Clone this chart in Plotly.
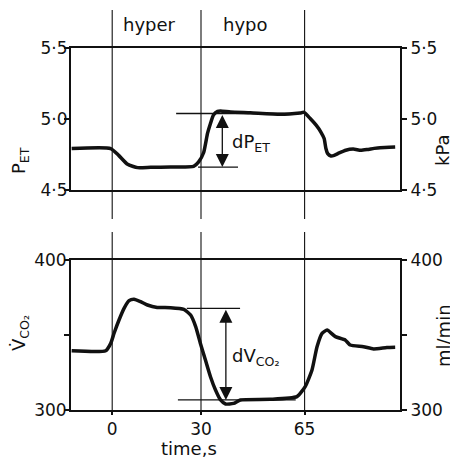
import plotly.graph_objects as go

# ---------------- data ----------------
pet_time = [-13.7, -0.5, 2.2, 5.2, 8.6, 13.0, 19.7, 27.5, 29.2, 30.9, 32.2, 33.2, 34.2,
            35.6, 36.6, 40.0, 46.7, 56.8, 63.5, 64.8, 66.9, 68.9, 70.5, 71.6, 72.2,
            72.8, 73.9, 75.0, 76.7, 78.9, 81.4, 84.0, 86.1, 88.5, 90.5, 95.6]
pet_kpa = [4.794, 4.794, 4.746, 4.683, 4.660, 4.662, 4.664, 4.668, 4.700, 4.766, 4.900,
           4.970, 5.030, 5.055, 5.058, 5.050, 5.045, 5.035, 5.044, 5.048, 5.005, 4.958,
           4.910, 4.864, 4.794, 4.758, 4.742, 4.746, 4.763, 4.782, 4.790, 4.782, 4.787,
           4.795, 4.800, 4.805]

vco2_time = [-13.7, -2.2, -0.5, 0.6, 2.3, 4.0, 5.7, 7.4, 9.6, 11.9, 15.2, 19.7, 24.2,
             26.5, 28.2, 29.8, 31.5, 33.2, 34.9, 36.6, 38.3, 41.0, 43.3, 53.4, 62.4,
             65.2, 67.5, 69.2, 70.9, 72.6, 75.4, 78.7, 80.4, 84.9, 88.3, 92.8, 95.6]
vco2_mlmin = [339.5, 339.5, 344.4, 351.0, 360.0, 367.8, 372.9, 373.8, 372.2, 370.0,
              368.4, 368.2, 367.1, 363.3, 355.6, 344.4, 333.3, 322.2, 313.3, 306.7,
              304.0, 304.4, 306.7, 307.1, 308.9, 315.6, 326.7, 342.2, 351.1, 353.3,
              348.9, 346.7, 343.3, 342.2, 340.7, 341.6, 341.8]

event_times = [0, 30, 65]
phase_labels = ["hyper", "hypo"]

pet_ticks = [4.5, 5.0, 5.5]
pet_ticktext = ["4·5", "5·0", "5·5"]
vco2_ticks = [300, 350, 400]
vco2_ticktext = ["300", "", "400"]
time_ticks = [0, 30, 65]
time_ticktext = ["0", "30", "65"]

# difference markers
dpet_upper, dpet_lower = 5.04, 4.664
dpet_upper_span = [21.6, 63.0]
dpet_lower_span = [29.0, 42.5]
dpet_arrow_t = 37.2
dvco2_upper, dvco2_lower = 367.8, 306.7
dvco2_upper_span = [25.2, 43.2]
dvco2_lower_span = [22.2, 62.0]
dvco2_arrow_t = 38.4

# ---------------- figure ----------------
INK = "#111111"
FONT = "DejaVu Sans"
TICKF = dict(family=FONT, size=17, color=INK)

fig = go.Figure()
fig.add_trace(go.Scatter(x=pet_time, y=pet_kpa, mode="lines", xaxis="x", yaxis="y",
                         line=dict(color=INK, width=3.5, shape="spline", smoothing=0.5),
                         showlegend=False, hoverinfo="skip"))
fig.add_trace(go.Scatter(x=vco2_time, y=vco2_mlmin, mode="lines", xaxis="x2", yaxis="y2",
                         line=dict(color=INK, width=3.5, shape="spline", smoothing=0.5),
                         showlegend=False, hoverinfo="skip"))
# empty traces so the right-hand (overlaying) axes are drawn
fig.add_trace(go.Scatter(x=[None], y=[None], mode="lines", xaxis="x", yaxis="y3",
                         showlegend=False, hoverinfo="skip"))
fig.add_trace(go.Scatter(x=[None], y=[None], mode="lines", xaxis="x2", yaxis="y4",
                         showlegend=False, hoverinfo="skip"))

xr = [-13.92, 97.23]
common_x = dict(range=xr, showline=True, mirror=True, linecolor=INK, linewidth=1.6,
                showgrid=False, zeroline=False, automargin=False)
common_y = dict(showline=True, linecolor=INK, linewidth=2, showgrid=False, zeroline=False,
                ticks="outside", ticklen=5, tickwidth=2, tickcolor=INK, tickfont=TICKF,
                automargin=False)

fig.update_layout(
    template="none",
    width=450, height=457,
    margin=dict(l=71, r=50, t=10, b=47, autoexpand=False),
    paper_bgcolor="white", plot_bgcolor="white",
    font=dict(family=FONT, color=INK, size=18),
    xaxis=dict(domain=[0, 1], anchor="y", showticklabels=False, ticks="", **common_x),
    yaxis=dict(domain=[0.549, 0.905], anchor="x", range=[4.5, 5.5], tickvals=pet_ticks,
               ticktext=pet_ticktext, ticklabelstandoff=-7, **common_y),
    yaxis3=dict(overlaying="y", side="right", anchor="x", range=[4.5, 5.5],
                tickvals=pet_ticks, ticktext=pet_ticktext, **common_y),
    xaxis2=dict(domain=[0, 1], anchor="y2", matches="x", tickvals=time_ticks,
                ticktext=time_ticktext, ticks="outside", ticklen=3, tickwidth=2,
                tickcolor=INK, tickfont=TICKF, **common_x),
    yaxis2=dict(domain=[0, 0.375], anchor="x2", range=[300, 400], tickvals=vco2_ticks,
                ticktext=vco2_ticktext, ticklabelstandoff=-6, **common_y),
    yaxis4=dict(overlaying="y2", side="right", anchor="x2", range=[300, 400],
                tickvals=vco2_ticks, ticktext=vco2_ticktext, **common_y),
)

shapes = []
for t in event_times:
    shapes.append(dict(type="line", xref="x", yref="paper", x0=t, x1=t, y0=0.4775, y1=1.0,
                       line=dict(color=INK, width=1.1)))
    shapes.append(dict(type="line", xref="x2", yref="paper", x0=t, x1=t, y0=-0.008, y1=0.445,
                       line=dict(color=INK, width=1.1)))
shapes += [
    dict(type="line", xref="x", yref="y", x0=dpet_upper_span[0], x1=dpet_upper_span[1],
         y0=dpet_upper, y1=dpet_upper, line=dict(color=INK, width=1.3)),
    dict(type="line", xref="x", yref="y", x0=dpet_lower_span[0], x1=dpet_lower_span[1],
         y0=dpet_lower, y1=dpet_lower, line=dict(color=INK, width=1.3)),
    dict(type="line", xref="x2", yref="y2", x0=dvco2_upper_span[0], x1=dvco2_upper_span[1],
         y0=dvco2_upper, y1=dvco2_upper, line=dict(color=INK, width=1.3)),
    dict(type="line", xref="x2", yref="y2", x0=dvco2_lower_span[0], x1=dvco2_lower_span[1],
         y0=dvco2_lower, y1=dvco2_lower, line=dict(color=INK, width=1.3)),
]
fig.update_layout(shapes=shapes)

ann = []
# double arrows
ann.append(dict(x=dpet_arrow_t, y=dpet_lower, ax=dpet_arrow_t, ay=dpet_upper, xref="x", yref="y",
                axref="x", ayref="y", text="", showarrow=True, arrowhead=2, startarrowhead=2,
                arrowside="end+start", arrowsize=2, startarrowsize=2, arrowwidth=1.3,
                arrowcolor=INK, standoff=0, startstandoff=0))
ann.append(dict(x=dvco2_arrow_t, y=dvco2_lower, ax=dvco2_arrow_t, ay=dvco2_upper, xref="x2",
                yref="y2", axref="x2", ayref="y2", text="", showarrow=True, arrowhead=2,
                startarrowhead=2, arrowside="end+start", arrowsize=2, startarrowsize=2,
                arrowwidth=1.3, arrowcolor=INK, standoff=0, startstandoff=0))

# screen pixel -> paper coordinates (plot area spans x 71..400, y 10..410 on screen)
def P(px, py):
    return (px - 71) / 329.0, (410 - py) / 400.0

def text_ann(txt, px, py, angle=0, xanchor="center", size=18):
    x, y = P(px, py)
    return dict(x=x, y=y, xref="paper", yref="paper", text=txt, showarrow=False,
                textangle=angle, xanchor=xanchor, yanchor="middle",
                font=dict(family=FONT, size=size, color=INK))

ann.append(text_ann(phase_labels[0], 149, 24))
ann.append(text_ann(phase_labels[1], 245, 24))
ann.append(text_ann("dP<sub>ET</sub>", 230, 143, xanchor="left"))
ann.append(text_ann("dV<sub>CO₂</sub>", 230, 357, xanchor="left"))
ann.append(text_ann("P<sub>ET</sub>", 20, 161, angle=-90))
ann.append(text_ann("kPa", 442, 150, angle=-90))
ann.append(text_ann("V̇<sub>CO₂</sub>", 20, 333, angle=-90))
ann.append(text_ann("ml/min", 443, 336, angle=-90))
ann.append(text_ann("time,s", 189, 448))
fig.update_layout(annotations=ann)

# remove the browser's default 8px body margin so the figure fills the window exactly
fig.write_html("out.html", config={"displayModeBar": False},
               post_script="document.body.style.margin='0px';")
